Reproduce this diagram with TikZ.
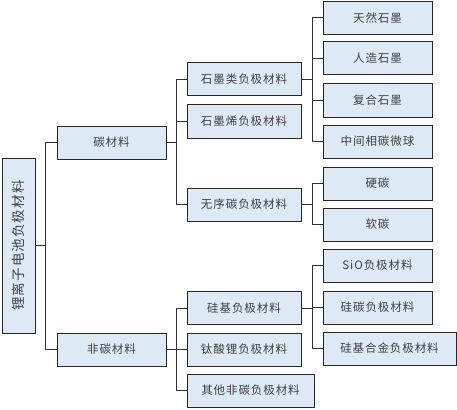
\documentclass[tikz,border=0pt]{standalone}
\usepackage{fontspec}
\newfontfamily\cjk[LetterSpace=8]{Noto Sans CJK SC}
\definecolor{boxblue}{RGB}{221,233,245}
\begin{document}
\begin{tikzpicture}[x=1pt,y=-1pt,
		box/.style={draw=black!85,line width=1pt,fill=boxblue,inner sep=0pt,minimum height=33pt,minimum width=109pt,text=black!75,font=\cjk\fontsize{11.5}{13}\selectfont},
		link/.style={draw=black!80,line width=1pt}]
		\useasboundingbox (0,0) rectangle (457,409);
		% root
		\node[box,minimum width=33pt,minimum height=175pt,font=\cjk\fontsize{13.5}{15}\selectfont] (R) at (18.5,245.5) {\rotatebox{90}{锂离子电池负极材料}};
		% first level
		\node[box] (C) at (111.5,142.5) {碳材料};
		\node[box] (F) at (111.5,349.5) {非碳材料};
		% second level
		\node[box,minimum width=114pt] (C1) at (244,79.5) {石墨类负极材料};
		\node[box,minimum width=114pt] (C2) at (244,121.5) {石墨烯负极材料};
		\node[box,minimum width=114pt] (C3) at (244,204.5) {无序碳负极材料};
		\node[box,minimum width=114pt] (F1) at (244,308) {硅基负极材料};
		\node[box,minimum width=114pt] (F2) at (244,349.5) {钛酸锂负极材料};
		\node[box,minimum width=127pt] (F3) at (250.5,390.5) {其他非碳负极材料};
		% third level
		\node[box] (C11) at (377.5,18) {天然石墨};
		\node[box] (C12) at (377.5,58.5) {人造石墨};
		\node[box] (C13) at (377.5,100.5) {复合石墨};
		\node[box] (C14) at (377.5,141.5) {中间相碳微球};
		\node[box] (C31) at (377.5,183.5) {硬碳};
		\node[box] (C32) at (377.5,224.5) {软碳};
		\node[box] (F11) at (377.5,265.5) {SiO负极材料};
		\node[box] (F12) at (377.5,307.5) {硅碳负极材料};
		\node[box,minimum width=133pt] (F13) at (389.5,348.5) {硅基合金负极材料};
		% connectors
		\foreach \n in {C,F} \draw[link] (R.east) -- ++(10,0) |- (\n.west);
		\foreach \n in {C1,C2,C3} \draw[link] (C.east) -- ++(10,0) |- (\n.west);
		\foreach \n in {F1,F2,F3} \draw[link] (F.east) -- ++(10,0) |- (\n.west);
		\foreach \n in {C11,C12,C13,C14} \draw[link] (C1.east) -- ++(11,0) |- (\n.west);
		\foreach \n in {C31,C32} \draw[link] (C3.east) -- ++(11,0) |- (\n.west);
		\foreach \n in {F11,F12,F13} \draw[link] (F1.east) -- ++(11,0) |- (\n.west);
	\end{tikzpicture}
\end{document}
